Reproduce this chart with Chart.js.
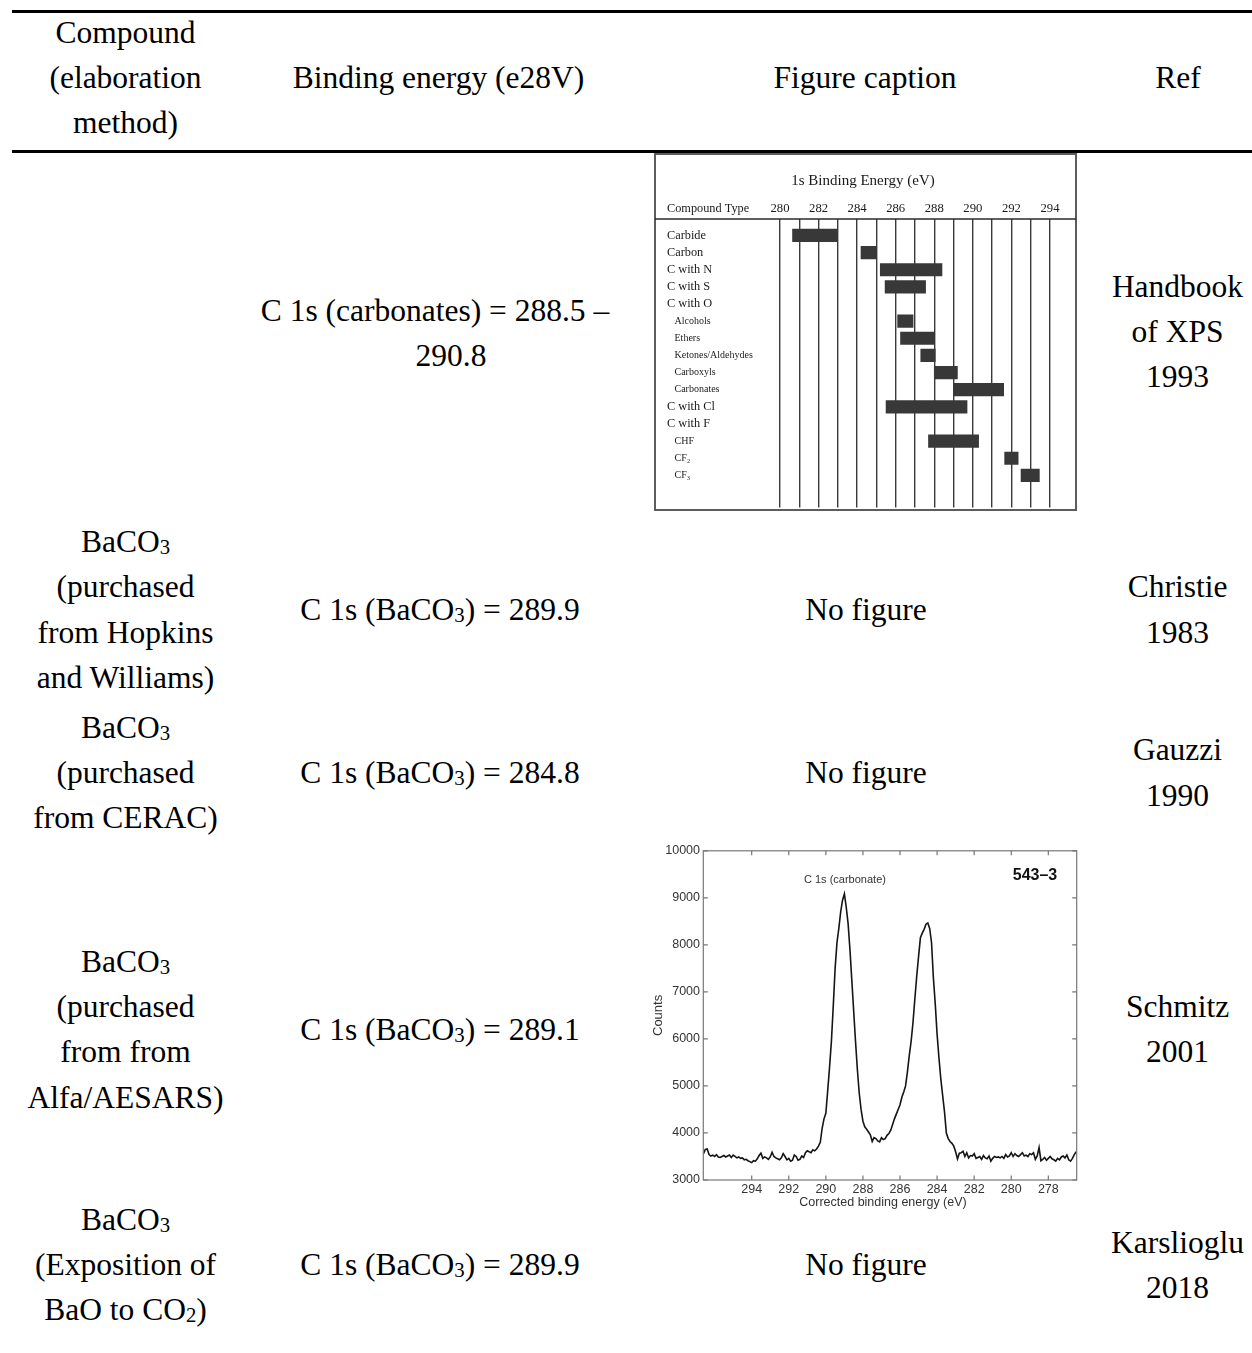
<!DOCTYPE html>
<html>
<head>
<meta charset="utf-8">
<script src="https://cdn.jsdelivr.net/npm/chart.js@4/dist/chart.umd.min.js"></script>
<style>
html,body{margin:0;padding:0;background:#fff;}
body{width:1252px;height:1353px;position:relative;overflow:hidden;}
.rule{position:absolute;left:12px;width:1240px;height:2.6px;background:#000;}
.t{position:absolute;width:600px;text-align:center;white-space:nowrap;font-family:"Liberation Serif","Times New Roman",serif;font-size:31.5px;line-height:45px;color:#000;}
.t sub{font-size:0.66em;vertical-align:-0.12em;line-height:0;}
canvas{position:absolute;}
</style>
</head>
<body>
<div class="rule" style="top:10px"></div>
<div class="rule" style="top:150px"></div>
<div id="cells"></div>
<canvas id="c1" width="430" height="365" style="left:650px;top:150px"></canvas>
<canvas id="c2" width="450" height="375" style="left:630px;top:840px"></canvas>
<script>
// ---------- table text ----------
const cells = [
  [125.5, 32.5, 'Compound'],
  [125.5, 77.7, '(elaboration'],
  [125.5, 122.9, 'method)'],
  [438.5, 77.7, 'Binding energy (e28V)'],
  [865, 77.7, 'Figure caption'],
  [1178, 77.7, 'Ref'],
  [435, 311, 'C 1s (carbonates) = 288.5 –'],
  [451, 356, '290.8'],
  [1177.5, 287, 'Handbook'],
  [1177.5, 332, 'of XPS'],
  [1177.5, 377, '1993'],
  [125.5, 542, 'BaCO<sub>3</sub>'],
  [125.5, 587, '(purchased'],
  [125.5, 632.5, 'from Hopkins'],
  [125.5, 678, 'and Williams)'],
  [440, 610, 'C 1s (BaCO<sub>3</sub>) = 289.9'],
  [866, 610, 'No figure'],
  [1177.5, 587, 'Christie'],
  [1177.5, 632.5, '1983'],
  [125.5, 728, 'BaCO<sub>3</sub>'],
  [125.5, 773, '(purchased'],
  [125.5, 818, 'from CERAC)'],
  [440, 773, 'C 1s (BaCO<sub>3</sub>) = 284.8'],
  [866, 773, 'No figure'],
  [1177.5, 750, 'Gauzzi'],
  [1177.5, 796, '1990'],
  [125.5, 962, 'BaCO<sub>3</sub>'],
  [125.5, 1007, '(purchased'],
  [125.5, 1052, 'from from'],
  [125.5, 1098, 'Alfa/AESARS)'],
  [440, 1030, 'C 1s (BaCO<sub>3</sub>) = 289.1'],
  [1177.5, 1007, 'Schmitz'],
  [1177.5, 1052, '2001'],
  [125.5, 1220, 'BaCO<sub>3</sub>'],
  [125.5, 1265, '(Exposition of'],
  [125.5, 1310, 'BaO to CO<sub>2</sub>)'],
  [440, 1265, 'C 1s (BaCO<sub>3</sub>) = 289.9'],
  [866, 1265, 'No figure'],
  [1177.5, 1243, 'Karslioglu'],
  [1177.5, 1288, '2018']
];
const holder = document.getElementById('cells');
cells.forEach(([cx, cy, html]) => {
  const d = document.createElement('div');
  d.className = 't';
  d.style.left = (cx - 300) + 'px';
  d.style.top = (cy - 22.7) + 'px';
  d.innerHTML = html;
  holder.appendChild(d);
});

// ---------- chart 1 data: 1s binding energy ranges ----------
const compoundTypes = ['Carbide','Carbon','C with N','C with S','C with O','Alcohols','Ethers','Ketones/Aldehydes','Carboxyls','Carbonates','C with Cl','C with F','CHF','CF₂','CF₃'];
const subLevel     = [0,0,0,0,0,1,1,1,1,1,0,0,1,1,1];
const rangeLow     = [280.65,284.2,285.2,285.45,null,286.1,286.25,287.3,288.0,289.0,285.5,null,287.7,291.65,292.5];
const rangeHigh    = [282.95,285.0,288.4,287.55,null,286.9,288.0,288.05,289.2,291.6,289.7,null,290.3,292.35,293.45];
const gridEnergies = [280,281,282,283,284,285,286,287,288,289,290,291,292,293,294];
const labeledEnergies = [280,282,284,286,288,290,292,294];

// ---------- chart 2 data: C 1s spectrum ----------
const energies = [
  296.6,296.5,296.4,296.3,296.2,296.1,296.0,295.9,295.8,295.7,
  295.6,295.5,295.4,295.3,295.2,295.1,295.0,294.9,294.8,294.7,
  294.6,294.5,294.4,294.3,294.2,294.1,294.0,293.9,293.8,293.7,
  293.6,293.5,293.4,293.3,293.2,293.1,293.0,292.9,292.8,292.7,
  292.6,292.5,292.4,292.3,292.2,292.1,292.0,291.9,291.8,291.7,
  291.6,291.5,291.4,291.3,291.2,291.1,291.0,290.9,290.8,290.7,
  290.6,290.5,290.4,290.3,290.2,290.1,290.0,289.9,289.8,289.7,
  289.6,289.5,289.4,289.3,289.2,289.1,289.0,288.9,288.8,288.7,
  288.6,288.5,288.4,288.3,288.2,288.1,288.0,287.9,287.8,287.7,
  287.6,287.5,287.4,287.3,287.2,287.1,287.0,286.9,286.8,286.7,
  286.6,286.5,286.4,286.3,286.2,286.1,286.0,285.9,285.8,285.7,
  285.6,285.5,285.4,285.3,285.2,285.1,285.0,284.9,284.8,284.7,
  284.6,284.5,284.4,284.3,284.2,284.1,284.0,283.9,283.8,283.7,
  283.6,283.5,283.4,283.3,283.2,283.1,283.0,282.9,282.8,282.7,
  282.6,282.5,282.4,282.3,282.2,282.1,282.0,281.9,281.8,281.7,
  281.6,281.5,281.4,281.3,281.2,281.1,281.0,280.9,280.8,280.7,
  280.6,280.5,280.4,280.3,280.2,280.1,280.0,279.9,279.8,279.7,
  279.6,279.5,279.4,279.3,279.2,279.1,279.0,278.9,278.8,278.7,
  278.6,278.5,278.4,278.3,278.2,278.1,278.0,277.9,277.8,277.7,
  277.6,277.5,277.4,277.3,277.2,277.1,277.0,276.9,276.8,276.7,
  276.6,276.5
];
const counts = [
  3560,3650,3660,3540,3510,3530,3500,3540,3490,3480,
  3500,3520,3490,3510,3530,3480,3530,3500,3470,3490,
  3460,3470,3430,3440,3410,3390,3370,3410,3400,3450,
  3520,3570,3460,3490,3470,3440,3490,3590,3500,3470,
  3450,3430,3470,3560,3500,3430,3460,3400,3420,3530,
  3500,3420,3440,3510,3480,3580,3620,3600,3580,3640,
  3620,3660,3720,3800,4100,4300,4420,4900,5400,5950,
  6700,7500,8050,8350,8700,8950,9085,8800,8450,7900,
  7250,6600,5950,5350,4850,4500,4250,4130,4080,4020,
  3960,3820,3900,3880,3830,3810,3900,3860,3880,3950,
  3990,4060,4180,4300,4400,4500,4600,4760,4870,5000,
  5300,5650,5950,6350,6850,7327,7750,8150,8250,8330,
  8440,8466,8350,8050,7300,6750,6100,5600,5150,4800,
  4450,4000,3880,3820,3780,3720,3600,3450,3570,3580,
  3610,3500,3580,3470,3520,3510,3560,3460,3480,3500,
  3440,3520,3470,3450,3510,3400,3460,3500,3480,3490,
  3470,3500,3460,3540,3490,3510,3580,3500,3560,3520,
  3500,3540,3580,3510,3530,3500,3560,3540,3580,3440,
  3510,3690,3410,3440,3480,3420,3460,3500,3450,3430,
  3400,3460,3430,3490,3510,3470,3530,3430,3400,3460,
  3540,3600
];
const energyTicks = [294,292,290,288,286,284,282,280,278];
const countTicks = [3000,4000,5000,6000,7000,8000,9000,10000];

Chart.defaults.animation = false;
Chart.defaults.font.family = '"Liberation Sans", Arial, sans-serif';

// ---------- chart 1 ----------
const bars = [];
compoundTypes.forEach((c, i) => {
  if (rangeLow[i] !== null) bars.push({x: [rangeLow[i], rangeHigh[i]], y: i});
});
const framePlugin = {
  id: 'frame1',
  afterDraw(chart) {
    const ctx = chart.ctx;
    ctx.save();
    ctx.strokeStyle = '#5c5c5c';
    ctx.lineWidth = 2;
    ctx.strokeRect(5, 4, 421, 356);
    ctx.strokeStyle = '#2a2a2a';
    ctx.lineWidth = 1.6;
    ctx.beginPath(); ctx.moveTo(5, 69); ctx.lineTo(426, 69); ctx.stroke();
    ctx.fillStyle = '#1a1a1a';
    ctx.textBaseline = 'middle';
    ctx.textAlign = 'center';
    ctx.font = '15px "Liberation Serif", serif';
    ctx.fillText('1s Binding Energy (eV)', 213, 31);
    ctx.textAlign = 'left';
    ctx.font = '12.3px "Liberation Serif", serif';
    ctx.fillText('Compound Type', 17, 58.3);
    ctx.restore();
  }
};
new Chart(document.getElementById('c1'), {
  type: 'bar',
  data: { datasets: [{ data: bars, backgroundColor: '#383838', borderWidth: 0, barThickness: 12.5 }] },
  options: {
    indexAxis: 'y',
    responsive: false,
    devicePixelRatio: 1,
    layout: { padding: { left: 17, right: 4, top: 44, bottom: 5 } },
    plugins: { legend: { display: false }, tooltip: { enabled: false } },
    scales: {
      x: {
        type: 'linear', position: 'top', min: 280, max: 295.35, offset: false,
        afterBuildTicks: s => { s.ticks = gridEnergies.map(v => ({ value: v })); },
        afterFit: s => { s.height = 25; },
        grid: { color: '#3a3a3a', lineWidth: 1.4, drawTicks: false },
        border: { display: false },
        ticks: {
          padding: 3, color: '#1a1a1a', maxRotation: 0, autoSkip: false,
          font: { family: '"Liberation Serif", serif', size: 12.7 },
          callback: v => labeledEnergies.includes(v) ? String(v) : ''
        }
      },
      y: {
        type: 'linear', reverse: true, min: -0.96, max: 15.88, offset: false,
        afterBuildTicks: s => { s.ticks = compoundTypes.map((c, i) => ({ value: i })); },
        afterFit: s => { s.width = 113; },
        grid: { display: false },
        border: { display: false },
        ticks: {
          crossAlign: 'far', padding: 0, color: '#1a1a1a', autoSkip: false,
          font: ctx => ({ family: '"Liberation Serif", serif', size: subLevel[ctx.index] ? 10 : 12.3 }),
          callback: v => (subLevel[v] ? '   ' : '') + compoundTypes[v]
        }
      }
    }
  },
  plugins: [framePlugin]
});

// ---------- chart 2 ----------
const boxPlugin = {
  id: 'box2',
  afterDraw(chart) {
    const { ctx, chartArea: a, scales: { x, y } } = chart;
    ctx.save();
    ctx.strokeStyle = '#777';
    ctx.lineWidth = 1.2;
    ctx.strokeRect(a.left, a.top, a.right - a.left, a.bottom - a.top);
    ctx.beginPath();
    x.ticks.forEach(t => {
      const px = x.getPixelForValue(t.value);
      ctx.moveTo(px, a.bottom); ctx.lineTo(px, a.bottom - 4.5);
      ctx.moveTo(px, a.top); ctx.lineTo(px, a.top + 4.5);
    });
    y.ticks.forEach(t => {
      const py = y.getPixelForValue(t.value);
      ctx.moveTo(a.left, py); ctx.lineTo(a.left + 4.5, py);
      ctx.moveTo(a.right, py); ctx.lineTo(a.right - 4.5, py);
    });
    ctx.stroke();
    ctx.fillStyle = '#333';
    ctx.textAlign = 'center';
    ctx.textBaseline = 'middle';
    ctx.font = '11px "Liberation Sans", Arial, sans-serif';
    ctx.fillText('C 1s (carbonate)', x.getPixelForValue(288.97), y.getPixelForValue(9380));
    ctx.fillStyle = '#111';
    ctx.font = 'bold 16px "Liberation Sans", Arial, sans-serif';
    ctx.fillText('543–3', x.getPixelForValue(278.72), y.getPixelForValue(9480));
    ctx.fillStyle = '#333';
    ctx.font = '12.5px "Liberation Sans", Arial, sans-serif';
    ctx.fillText('Corrected binding energy (eV)', 253, 363);
    ctx.restore();
  }
};
new Chart(document.getElementById('c2'), {
  type: 'line',
  data: {
    datasets: [{
      data: energies.map((e, i) => ({ x: e, y: counts[i] })),
      borderColor: '#151515', borderWidth: 1.6, pointRadius: 0, tension: 0, fill: false
    }]
  },
  options: {
    responsive: false,
    devicePixelRatio: 1,
    layout: { padding: { left: 0, right: 3.3, top: 8.3, bottom: 4.5 } },
    plugins: { legend: { display: false }, tooltip: { enabled: false } },
    scales: {
      x: {
        type: 'linear', reverse: true, min: 276.47, max: 296.61, offset: false,
        afterBuildTicks: s => { s.ticks = energyTicks.map(v => ({ value: v })); },
        afterFit: s => { s.height = 30.5; },
        grid: { display: false, drawTicks: false },
        border: { display: false },
        ticks: { padding: 2.5, color: '#333', maxRotation: 0, autoSkip: false, font: { size: 12.5 },
          callback: v => String(v) }
      },
      y: {
        type: 'linear', min: 3000, max: 10000, offset: false,
        afterBuildTicks: s => { s.ticks = countTicks.map(v => ({ value: v })); },
        afterFit: s => { s.width = 73.3; },
        grid: { display: false, drawTicks: false },
        border: { display: false },
        ticks: { padding: 3.3, color: '#333', autoSkip: false, font: { size: 12.5 },
          callback: v => String(v) },
        title: { display: true, text: 'Counts', color: '#333', font: { size: 13 }, padding: { top: 20.2, bottom: 0 } }
      }
    }
  },
  plugins: [boxPlugin]
});
</script>
</body>
</html>
